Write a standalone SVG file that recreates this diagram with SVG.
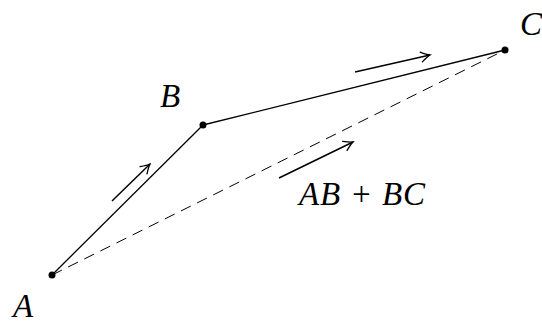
<svg xmlns="http://www.w3.org/2000/svg" width="542" height="323" viewBox="0 0 542 323">
<defs>
<marker id="to" viewBox="-10 -6 12 12" markerWidth="12" markerHeight="12" refX="0" refY="0" orient="auto" markerUnits="userSpaceOnUse">
<path d="M-9,-5 Q-3,-1 0,0 Q-3,1 -9,5" fill="none" stroke="#000" stroke-width="1.3" stroke-linecap="round"/>
</marker>
</defs>
<style>
.seg{stroke:#000;stroke-width:1.3;fill:none}
.dash{stroke:#000;stroke-width:1;fill:none;stroke-dasharray:11 7}
.vec{stroke:#000;stroke-width:1.5;fill:none;marker-end:url(#to)}
.pt{fill:#000}
</style>
<rect width="542" height="323" fill="#fff"/>
<g id="connectors">
<line class="seg" x1="52" y1="275" x2="203" y2="125"/>
<line class="seg" x1="203" y1="125" x2="505" y2="50"/>
<line class="dash" x1="52" y1="275" x2="505" y2="50"/>
<line class="vec" x1="112" y1="201" x2="150" y2="164"/>
<line class="vec" x1="355" y1="72" x2="430" y2="55"/>
<line class="vec" x1="279" y1="178" x2="353" y2="142"/>
</g>
<g font-family="Liberation Serif, Times New Roman, serif" font-style="italic" font-size="33" fill="#000">
<g id="A"><circle class="pt" cx="52" cy="275" r="3.5"/><text x="13" y="317">A</text></g>
<g id="B"><circle class="pt" cx="203" cy="125" r="3.5"/><text x="160" y="107">B</text></g>
<g id="C"><circle class="pt" cx="505" cy="50" r="3.5"/><text x="520" y="35">C</text></g>
<g id="sum"><text x="299" y="205" textLength="126" lengthAdjust="spacing">AB + BC</text></g>
</g>
</svg>
